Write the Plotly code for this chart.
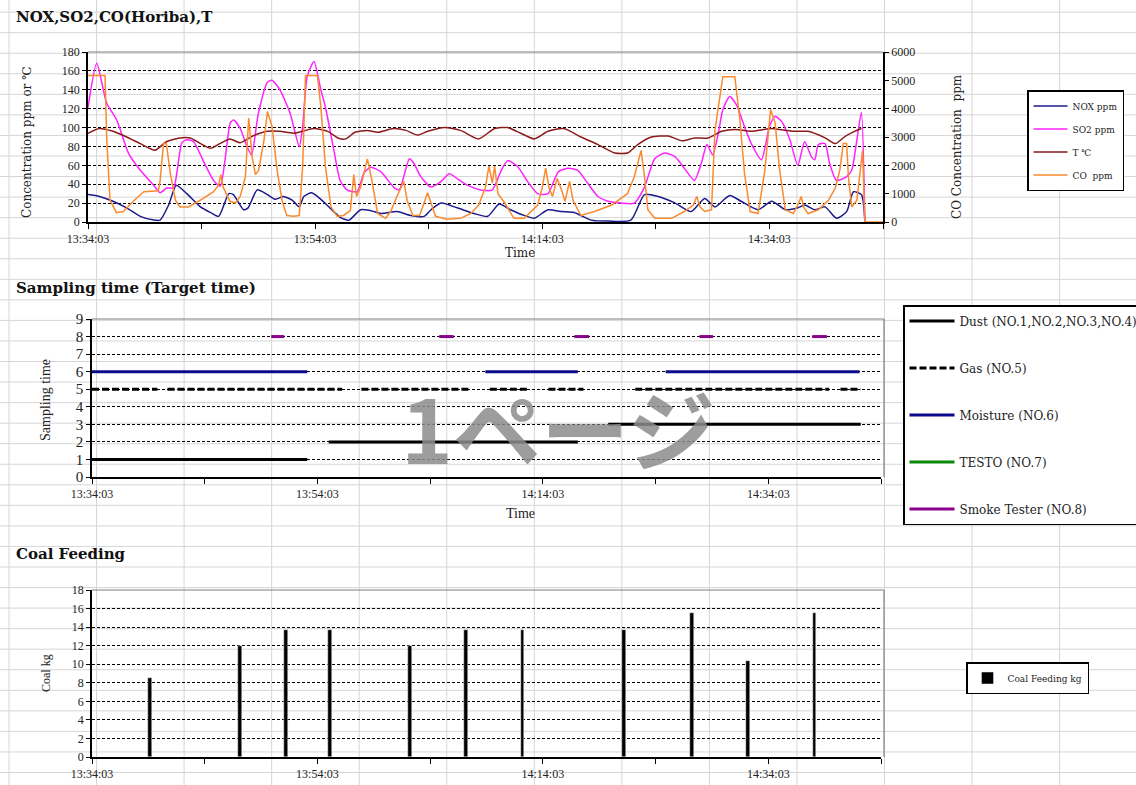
import pandas as pd
import plotly.graph_objects as go

W, H = 1136, 785
BASE = pd.Timestamp("2000-01-01 13:34:03")
END_MIN = 70

# ---------------- data: top chart (minutes after 13:34:03) ----------------
nox_t = [0, 1.0, 2.2, 3.4, 4.6, 5.8, 6.35, 7.1, 7.77, 8.7, 9.9, 10.8, 11.5, 12.4, 12.8, 13.7, 14.1, 14.9,
         15.8, 16.5, 17.2, 18.0, 18.6, 19.0, 19.7, 20.5, 21.3, 22.2, 22.98, 24.0, 24.9, 25.8, 27.2, 28.4,
         29.6, 30.2, 31.1, 32.5, 34.0, 35.2, 36.2, 37.2, 38.4, 39.3, 40.5, 41.7, 42.8, 44.3, 45.8, 47.8,
         49.0, 50.2, 51.7, 53.1, 54.3, 55.2, 56.5, 57.5, 59.0, 60.2, 61.4, 62.5, 63.1, 64.0, 64.9, 65.9,
         66.8, 67.4, 68.1, 68.4]
nox_v = [29, 27, 22, 15, 6, 2, 2, 18, 39, 30, 16, 10, 6, 30, 29, 13, 15, 34,
         29, 24, 27, 23, 16, 27, 31, 24, 15, 5, 2, 13, 12, 9, 11, 7,
         6, 13, 20, 15, 9, 6, 19, 13, 7, 4, 13, 11, 10, 2, 1, 2,
         29, 27, 20, 11, 25, 16, 28, 22, 13, 22, 13, 15, 18, 13, 16, 4,
         11, 32, 29, 2]

so2_t = [0, 0.77, 1.64, 2.53, 3.56, 4.59, 5.77, 6.35, 6.94, 7.53, 8.27, 8.71, 9.3, 10.18, 11.06, 11.65,
         12.53, 12.83, 13.4, 14.0, 14.4, 15.0, 15.8, 16.2, 16.9, 17.8, 18.6, 18.9, 19.3, 19.9, 20.5, 20.9,
         21.65, 22.2, 22.8, 23.7, 24.3, 24.9, 25.8, 26.9, 27.4, 28.3, 28.7, 29.3, 30.2, 31.1, 31.8, 32.5,
         33.4, 34.6, 35.6, 36.4, 36.95, 37.8, 38.7, 39.6, 40.5, 41.4, 42.25, 43.1, 44.0, 44.9, 45.8, 46.95,
         48.1, 49.0, 49.9, 50.8, 51.7, 52.5, 53.4, 54.0, 54.5, 55.0, 55.5, 55.9, 56.5, 57.1, 57.8, 58.4,
         59.3, 60.0, 60.5, 61.1, 61.8, 62.5, 63.1, 63.7, 64.0, 64.3, 64.9, 65.3, 65.9, 66.8, 67.25, 67.7,
         68.1, 68.4]
so2_v = [121, 168, 126, 108, 73, 55, 39, 31, 36, 36, 84, 87, 85, 64, 44, 38,
         105, 108, 99, 80, 71, 115, 148, 150, 140, 115, 80, 101, 154, 170, 140, 122,
         76, 44, 34, 32, 52, 58, 53, 37, 34, 67, 62, 48, 37, 43, 51, 46,
         39, 34, 34, 55, 65, 59, 43, 30, 30, 53, 57, 55, 41, 27, 22, 20,
         20, 37, 67, 73, 69, 57, 44, 62, 82, 71, 94, 119, 133, 124, 101, 83,
         66, 101, 112, 106, 87, 60, 85, 69, 66, 82, 83, 62, 44, 48, 55, 87,
         116, 0]

temp_t = [0, 1, 2.2, 3.4, 4.6, 5.9, 6.9, 8.1, 9.0, 9.9, 10.8, 11.6, 12.5, 13.4, 14.5, 15.8, 16.9, 18.1,
          19.9, 21.1, 22.0, 22.7, 23.5, 24.6, 25.5, 26.9, 28.0, 29.0, 29.9, 31.4, 32.8, 34.4, 35.8, 36.95,
          38.1, 39.3, 40.5, 41.9, 43.4, 44.9, 46.4, 47.5, 48.4, 49.6, 51.1, 52.3, 53.4, 54.6, 55.8, 57.0,
          58.4, 60.2, 62.0, 63.4, 64.9, 65.8, 66.7, 67.5, 68.1]
temp_v = [94, 99, 96, 90, 83, 76, 85, 89, 89, 83, 78, 83, 88, 84, 91, 96, 96, 94,
          99, 96, 89, 88, 95, 97, 95, 99, 97, 92, 96, 100, 97, 88, 99, 100,
          94, 88, 96, 99, 90, 82, 73, 73, 82, 90, 91, 86, 89, 89, 96, 98,
          96, 99, 96, 96, 89, 83, 91, 96, 99]

co_t = [0, 1.5, 1.65, 1.94, 2.5, 3.1, 4.0, 4.9, 6.2, 6.35, 6.65, 6.9, 7.24, 7.7, 8.1, 8.85, 9.9, 11.06,
        11.5, 11.7, 11.9, 12.5, 12.97, 13.4, 13.86, 14.15, 14.45, 14.74, 15.03, 15.5, 15.8, 16.2, 16.65,
        17.1, 17.5, 18.1, 18.6, 18.9, 19.15, 20.2, 20.5, 20.9, 21.4, 21.95, 22.5, 23.1, 23.4, 23.65, 24.0,
        24.6, 25.0, 25.5, 26.2, 26.65, 27.2, 27.8, 28.1, 28.6, 29.2, 29.6, 29.9, 30.2, 30.6, 31.6, 32.8,
        33.7, 34.4, 35.0, 35.3, 35.6, 35.8, 36.1, 36.7, 37.5, 38.4, 39.6, 40.0, 40.3, 40.6, 40.9, 41.3,
        41.7, 42.0, 42.4, 42.7, 43.4, 44.6, 46.1, 47.5, 48.1, 48.4, 48.7, 49.0, 49.3, 49.9, 51.4, 52.5,
        53.3, 53.6, 53.9, 54.3, 54.9, 55.2, 55.9, 56.95, 57.4, 57.8, 58.3, 59.0, 59.6, 60.1, 60.5, 60.9,
        61.4, 62.1, 62.5, 62.8, 63.0, 63.4, 64.3, 65.2, 65.8, 66.2, 66.5, 66.8, 66.95, 67.25, 67.7, 68.2,
        68.4, 70.0]
co_v = [5170, 5170, 2900, 770, 330, 370, 730, 1070, 1100, 1470, 2770, 2770, 1730, 770, 530, 530, 770, 1070,
        1300, 1670, 1230, 730, 670, 900, 1600, 3670, 2300, 1670, 1830, 2900, 3900, 3370, 1830,
        730, 230, 200, 230, 1970, 5170, 5170, 4070, 1970, 530, 200, 230, 400, 1670, 900, 1230,
        2230, 1470, 300, 130, 370, 900, 1430, 770, 230, 230, 670, 1030, 670, 200, 100, 130,
        300, 600, 1230, 1970, 1370, 1970, 1000, 670, 130, 130, 600, 1230, 1900, 1200, 900, 1530,
        1130, 730, 1430, 770, 230, 370, 600, 1000, 1600, 2070, 2530, 1600, 430, 130, 130, 370,
        600, 900, 530, 370, 430, 3230, 5130, 5130, 3600, 1730, 370, 300, 1830, 3970, 3500, 1830,
        430, 300, 600, 900, 530, 300, 430, 770, 1200, 1830, 2770, 2770, 1600, 530, 770, 2530,
        0, 0]

# ---------------- data: sampling time segments (start min, end min, level) ----------------
dust_segments = [(0, 19.1, 1), (21.0, 43.1, 2), (45.8, 68.2, 3)]
gas_segments = [(0, 5.8, 5), (6.7, 22.2, 5), (23.9, 33.4, 5), (35.3, 38.6, 5), (40.5, 43.6, 5),
                (48.2, 65.4, 5), (66.4, 68.2, 5)]
moisture_segments = [(0, 19.1, 6), (34.9, 43.1, 6), (50.9, 68.1, 6)]
testo_segments = []
smoke_segments = [(15.9, 17.05, 8), (30.8, 32.1, 8), (42.8, 44.1, 8), (53.9, 55.1, 8), (63.9, 65.2, 8)]

# ---------------- data: coal feeding ----------------
coal_t = [5.15, 13.1, 17.2, 21.1, 28.2, 33.2, 38.2, 47.2, 53.2, 58.2, 64.1]
coal_kg = [8.5, 12.0, 13.7, 13.7, 12.0, 13.7, 13.7, 13.7, 15.5, 10.4, 15.5]


def T(mins):
    return [None if m is None else BASE + pd.Timedelta(minutes=m) for m in mins]


def seg_xy(segs):
    xs, ys = [], []
    for a, b, lvl in segs:
        xs += [a, b, None]
        ys += [lvl, lvl, None]
    return T(xs), ys


def px(x):
    return x / W


def py(y):
    return 1 - y / H


SERIF = "Liberation Serif"
WIDE = "DejaVu Serif"
fig = go.Figure()

# top chart
fig.add_trace(go.Scatter(x=T(nox_t), y=nox_v, name="NOX ppm", mode="lines",
                         line=dict(color="#1a1a8c", width=1.5, shape="spline", smoothing=0.6),
                         xaxis="x", yaxis="y", legend="legend", legendgroup="a"))
fig.add_trace(go.Scatter(x=T(so2_t), y=so2_v, name="SO2 ppm", mode="lines",
                         line=dict(color="#ff22ff", width=1.5, shape="spline", smoothing=0.6),
                         xaxis="x", yaxis="y", legend="legend", legendgroup="b"))
fig.add_trace(go.Scatter(x=T(temp_t), y=temp_v, name="T ℃", mode="lines",
                         line=dict(color="#8b1a1a", width=1.5, shape="spline", smoothing=0.6),
                         xaxis="x", yaxis="y", legend="legend", legendgroup="c"))
fig.add_trace(go.Scatter(x=T(co_t), y=co_v, name="CO  ppm", mode="lines",
                         line=dict(color="#fb8a2e", width=1.5),
                         xaxis="x", yaxis="y2", legend="legend", legendgroup="d"))

# middle chart
for name, segs, color, dash, grp in [
    ("Dust (NO.1,NO.2,NO.3,NO.4)", dust_segments, "black", "solid", "m1"),
    ("Gas (NO.5)", gas_segments, "black", "7px,3px", "m2"),
    ("Moisture (NO.6)", moisture_segments, "#0a0a8a", "solid", "m3"),
    ("TESTO (NO.7)", testo_segments, "#0a8a0a", "solid", "m4"),
    ("Smoke Tester (NO.8)", smoke_segments, "#8a008a", "solid", "m5"),
]:
    if segs:
        x, y = seg_xy(segs)
    else:
        x, y = T([0]), [None]
    fig.add_trace(go.Scatter(x=x, y=y, name=name, mode="lines", connectgaps=False,
                             line=dict(color=color, width=3, dash=dash),
                             xaxis="x2", yaxis="y3", legend="legend2", legendgroup=grp))

# bottom chart
fig.add_trace(go.Bar(x=T(coal_t), y=coal_kg, name="Coal Feeding kg", marker_color="black",
                     width=20000, xaxis="x3", yaxis="y4", legend="legend3"))

rng = [BASE, BASE + pd.Timedelta(minutes=END_MIN)]
tick_font = dict(family=SERIF, size=12, color="#222")


def xax(dom, anchor):
    return dict(domain=dom, anchor=anchor, type="date", range=rng, tickformat="%H:%M:%S",
                tick0=BASE, dtick=20 * 60 * 1000, ticks="outside", ticklen=5, tickcolor="black",
                showline=True, linecolor="black", linewidth=1.5, showgrid=False, zeroline=False,
                tickfont=tick_font,
                minor=dict(tick0=BASE, dtick=10 * 60 * 1000, ticks="outside", ticklen=5,
                           tickcolor="black", showgrid=False))


def yax(dom, anchor, r, dt, size=12):
    return dict(domain=dom, anchor=anchor, range=r, dtick=dt, ticks="outside", ticklen=4,
                tickcolor="black", showline=True, linecolor="black", linewidth=1.5,
                showgrid=True, gridcolor="black", griddash="3px,2px", gridwidth=1,
                zeroline=False, tickfont=dict(family=SERIF, size=size, color="#222"))


XTOP = [px(88), px(883)]
XMID = [px(92), px(881)]
fig.update_layout(
    width=W, height=H,
    margin=dict(l=0, r=0, t=0, b=0, autoexpand=False),
    paper_bgcolor="white", plot_bgcolor="rgba(0,0,0,0)",
    xaxis=xax(XTOP, "y"),
    yaxis=yax([py(222), py(52)], "x", [0, 180], 20),
    yaxis2=dict(overlaying="y", side="right", anchor="x", range=[0, 6000], dtick=1000,
                ticks="outside", ticklen=4, tickcolor="black", showline=True, linecolor="black",
                linewidth=1.5, showgrid=False, zeroline=False,
                tickfont=dict(family=SERIF, size=12, color="#222")),
    xaxis2=xax(XMID, "y3"),
    yaxis3=yax([py(477), py(319)], "x2", [0, 9], 1, size=15),
    xaxis3=xax(XMID, "y4"),
    yaxis4=yax([py(757), py(590)], "x3", [0, 18], 2),
    showlegend=True,
    legend=dict(x=px(1027), y=py(90), xanchor="left", yanchor="top", bgcolor="white",
                bordercolor="black", borderwidth=1.5, traceorder="grouped", tracegroupgap=4,
                font=dict(family=WIDE, size=9, color="#222"), itemwidth=34),
    legend2=dict(x=px(903), y=py(305), xanchor="left", yanchor="top", bgcolor="white",
                 bordercolor="black", borderwidth=1.5, traceorder="grouped", tracegroupgap=28,
                 font=dict(family=WIDE, size=12, color="#222"), itemwidth=45),
    legend3=dict(x=px(966), y=py(662), xanchor="left", yanchor="top", bgcolor="white",
                 bordercolor="black", borderwidth=1.5,
                 font=dict(family=WIDE, size=9, color="#222"), itemwidth=30),
    bargap=0,
)

# spreadsheet cell grid (background)
shapes = []
cx = 9.0
while cx < W:
    shapes.append(dict(type="line", xref="paper", yref="paper", x0=px(cx), x1=px(cx), y0=0, y1=1,
                       line=dict(color="#d6d6d6", width=1), layer="below"))
    cx += 87.55
ry = 12.15
while ry < H:
    shapes.append(dict(type="line", xref="paper", yref="paper", x0=0, x1=1, y0=py(ry), y1=py(ry),
                       line=dict(color="#d6d6d6", width=1), layer="below"))
    ry += 20.55
# plot-area borders (grey)
border = dict(color="#7f7f7f", width=1.2)
shapes.append(dict(type="line", xref="paper", yref="paper", x0=XTOP[0], x1=XTOP[1],
                   y0=py(52), y1=py(52), line=border, layer="above"))
for top, bot in [(319, 477), (590, 757)]:
    shapes.append(dict(type="line", xref="paper", yref="paper", x0=XMID[0], x1=px(884),
                       y0=py(top), y1=py(top), line=border, layer="above"))
    shapes.append(dict(type="line", xref="paper", yref="paper", x0=px(884), x1=px(884),
                       y0=py(top), y1=py(bot), line=border, layer="above"))
fig.update_layout(shapes=shapes)

ann = []


def text(s, x, y, size, family=SERIF, angle=0, bold=False, xanchor="center", color="#222"):
    ann.append(dict(text=f"<b>{s}</b>" if bold else s, x=px(x), y=py(y), xref="paper", yref="paper",
                    showarrow=False, xanchor=xanchor, yanchor="middle", textangle=angle,
                    font=dict(family=family, size=size, color=color)))


text("NOX,SO2,CO(Horiba),T", 14, 17, 15, WIDE, bold=True, xanchor="left", color="#111")
text("Sampling time (Target time)", 14, 288, 15, WIDE, bold=True, xanchor="left", color="#111")
text("Coal Feeding", 14, 554, 15, WIDE, bold=True, xanchor="left", color="#111")
text("Concentration ppm or ℃", 27, 142, 12, WIDE, angle=-90)
text("CO Concentration  ppm", 957, 147, 12, WIDE, angle=-90)
text("Time", 520, 253, 12, WIDE)
text("Sampling time", 45, 400, 14, angle=-90)
text("Time", 520, 513, 14)
text("Coal kg", 46, 673, 12, angle=-90)
text("Time", 520, 790, 14)
# page watermark
ann.append(dict(text="<b>1ページ</b>", x=px(558), y=py(425), xref="paper", yref="paper", showarrow=False,
                xanchor="center", yanchor="middle",
                font=dict(family="Noto Sans CJK JP", size=88, color="rgba(140,140,140,0.85)")))
fig.update_layout(annotations=ann)

fig.write_html("out.html")
